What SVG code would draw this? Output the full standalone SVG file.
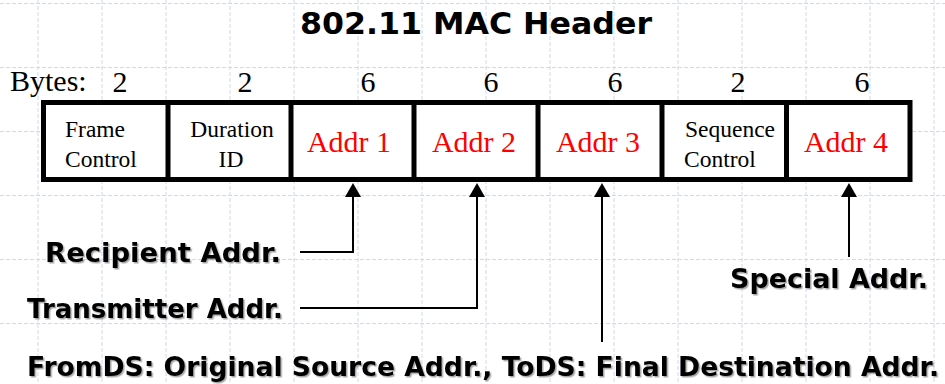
<svg xmlns="http://www.w3.org/2000/svg" width="945" height="384" viewBox="0 0 945 384">
<defs>
<style>
.grid{stroke:#cdd9f3;stroke-width:1;stroke-dasharray:4 2;fill:none}
.box{fill:#fff;stroke:#000;stroke-width:5}
.div{stroke:#000;stroke-width:5}
.num{font-family:"Liberation Serif","Times New Roman",serif;font-size:30px;fill:#000;text-anchor:middle}
.cell{font-family:"Liberation Serif","Times New Roman",serif;font-size:23.5px;fill:#000}
.addr{font-family:"Liberation Serif","Times New Roman",serif;font-size:30px;fill:#ff0000;text-anchor:middle}
.lbl{font-family:"DejaVu Sans","Liberation Sans",sans-serif;font-weight:bold;font-size:26px;fill:#000;filter:url(#sh)}
.title{font-family:"DejaVu Sans","Liberation Sans",sans-serif;font-weight:bold;font-size:30px;fill:#000}
.wire{stroke:#000;stroke-width:2;fill:none}
</style>
<filter id="sh" x="-5%" y="-30%" width="110%" height="160%">
<feDropShadow dx="1.5" dy="1.5" stdDeviation="0.7" flood-color="#000" flood-opacity="0.35"/>
</filter>
</defs>
<rect x="0" y="0" width="945" height="384" fill="#fff"/>
<g id="grid">
<path class="grid" d="M38 0V384M102 0V384M166 0V384M230 0V384M294 0V384M358 0V384M422 0V384M486 0V384M550 0V384M614 0V384M678 0V384M742 0V384M806 0V384M870 0V384M934 0V384M0 3.5H945M0 67.5H945M0 131.5H945M0 195.5H945M0 259.5H945M0 323.5H945"/>
</g>
<g id="title"><text class="title" x="300" y="34" textLength="352" lengthAdjust="spacingAndGlyphs">802.11 MAC Header</text></g>
<g id="bytes">
<text class="num" x="10" y="91" style="text-anchor:start">Bytes:</text>
<text class="num" x="120" y="92">2</text>
<text class="num" x="245" y="92">2</text>
<text class="num" x="368" y="92">6</text>
<text class="num" x="491" y="92">6</text>
<text class="num" x="615" y="92">6</text>
<text class="num" x="738" y="92">2</text>
<text class="num" x="862" y="92">6</text>
</g>
<g id="header">
<rect class="box" x="43.5" y="102.5" width="866.5" height="77"/>
<line class="div" x1="168" y1="102" x2="168" y2="180"/>
<line class="div" x1="291" y1="102" x2="291" y2="180"/>
<line class="div" x1="414" y1="102" x2="414" y2="180"/>
<line class="div" x1="538" y1="102" x2="538" y2="180"/>
<line class="div" x1="662" y1="102" x2="662" y2="180"/>
<line class="div" x1="786.5" y1="102" x2="786.5" y2="180"/>
</g>
<g id="frame-control"><text class="cell" x="65" y="137">Frame</text><text class="cell" x="65" y="167">Control</text></g>
<g id="duration-id"><text class="cell" x="232" y="137" text-anchor="middle">Duration</text><text class="cell" x="231" y="167" text-anchor="middle">ID</text></g>
<g id="addr1"><text class="addr" x="349" y="152">Addr 1</text></g>
<g id="addr2"><text class="addr" x="474" y="152">Addr 2</text></g>
<g id="addr3"><text class="addr" x="598" y="152">Addr 3</text></g>
<g id="sequence-control"><text class="cell" x="685" y="137">Sequence</text><text class="cell" x="684" y="167">Control</text></g>
<g id="addr4"><text class="addr" x="846" y="152">Addr 4</text></g>
<g id="connectors">
<polyline class="wire" points="300,252 353,252 353,195"/>
<polygon points="353,183 345,197 361,197"/>
<polyline class="wire" points="300,308 477,308 477,195"/>
<polygon points="477,183 469,197 485,197"/>
<line class="wire" x1="602" y1="195" x2="602" y2="342"/>
<polygon points="602,183 594,197 610,197"/>
<line class="wire" x1="849" y1="195" x2="849" y2="257"/>
<polygon points="849,183 841,197 857,197"/>
</g>
<g id="recipient"><text class="lbl" x="45" y="262" textLength="236" lengthAdjust="spacingAndGlyphs">Recipient Addr.</text></g>
<g id="transmitter"><text class="lbl" x="27" y="318" textLength="256" lengthAdjust="spacingAndGlyphs">Transmitter Addr.</text></g>
<g id="special"><text class="lbl" x="730" y="288" textLength="198" lengthAdjust="spacingAndGlyphs">Special Addr.</text></g>
<g id="fromds"><text class="lbl" x="27" y="376" textLength="912" lengthAdjust="spacingAndGlyphs">FromDS: Original Source Addr., ToDS: Final Destination Addr.</text></g>
</svg>
